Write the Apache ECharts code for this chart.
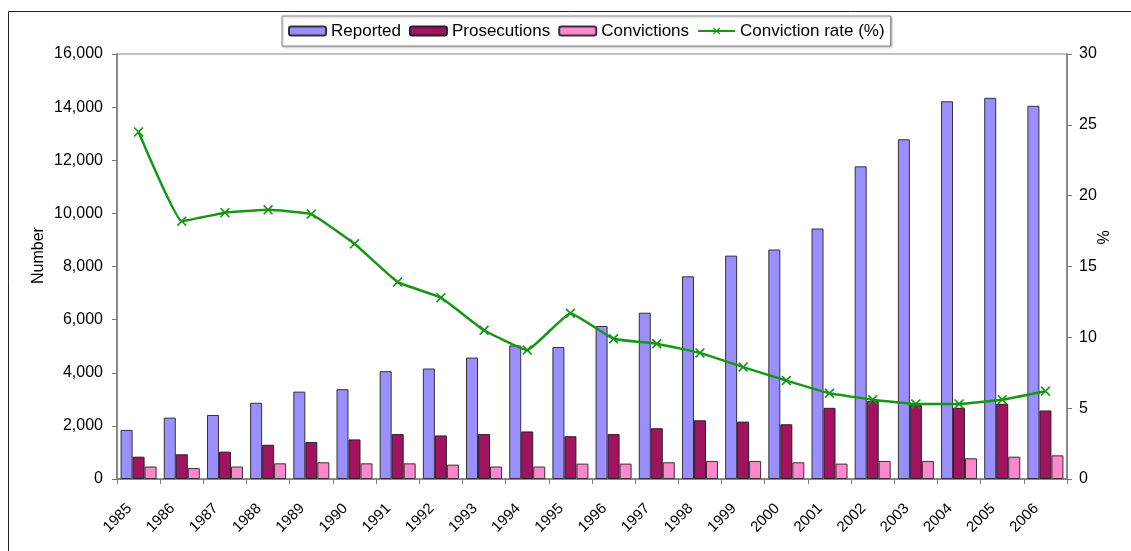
<!DOCTYPE html>
<html>
<head>
<meta charset="utf-8">
<script src="https://cdn.jsdelivr.net/npm/echarts@6/dist/echarts.min.js"></script>
<style>html,body{margin:0;padding:0;background:#fff}#c{width:1131px;height:551px}</style>
</head>
<body>
<div id="c"></div>
<script>
var years = ['1985','1986','1987','1988','1989','1990','1991','1992','1993','1994','1995','1996','1997','1998','1999','2000','2001','2002','2003','2004','2005','2006'];
var reported = [1850,2310,2410,2870,3290,3380,4060,4160,4570,5030,4970,5760,6260,7630,8410,8640,9430,11770,12790,14220,14350,14050];
var prosecutions = [840,930,1030,1290,1390,1490,1690,1640,1690,1790,1610,1690,1910,2210,2160,2060,2680,2940,2780,2680,2830,2580];
var convictions = [470,410,470,590,630,590,590,540,470,470,580,580,630,680,680,630,580,680,680,780,840,890];
var convictionRate = [24.5,18.2,18.8,19.0,18.7,16.6,13.9,12.8,10.5,9.1,11.7,9.9,9.55,8.9,7.9,6.95,6.05,5.6,5.3,5.3,5.6,6.2];
var leftTicks = {min:0, max:16000, interval:2000};
var rightTicks = {min:0, max:30, interval:5};

var font = 'Liberation Sans, Arial, sans-serif';
var xMark = 'path://M0,1.2L1.2,0L5,3.8L8.8,0L10,1.2L6.2,5L10,8.8L8.8,10L5,6.2L1.2,10L0,8.8L3.8,5Z';
var chart = echarts.init(document.getElementById('c'), null, {renderer:'canvas'});
chart.setOption({
  backgroundColor:'#fff',
  animation:false,
  textStyle:{fontFamily:font, color:'#000'},
  graphic:[
    {type:'line', shape:{x1:8.5,y1:11.5,x2:1131,y2:11.5}, style:{stroke:'#222',lineWidth:1}},
    {type:'line', shape:{x1:8.5,y1:11.5,x2:8.5,y2:551}, style:{stroke:'#222',lineWidth:1}}
  ],
  legend:{
    left:282, top:16,
    padding:[6,6,6,6],
    itemWidth:37, itemHeight:9, itemGap:8,
    borderColor:'#888', borderWidth:1,
    backgroundColor:'#fff',
    shadowColor:'rgba(0,0,0,0.25)', shadowBlur:2, shadowOffsetX:1, shadowOffsetY:1,
    textStyle:{fontSize:17, fontFamily:font, color:'#000', lineHeight:18},
    data:['Reported','Prosecutions','Convictions','Conviction rate (%)']
  },
  grid:{left:117, right:64, top:54, bottom:72, show:true, borderColor:'#888', borderWidth:1},
  xAxis:{
    type:'category', data:years, boundaryGap:true,
    axisLine:{lineStyle:{color:'#777', width:1.5}},
    axisTick:{show:true, length:5, lineStyle:{color:'#777'}},
    axisLabel:{rotate:45, fontSize:15, color:'#000', margin:18, padding:[0,13,0,0], fontFamily:font}
  },
  yAxis:[
    {type:'value', min:leftTicks.min, max:leftTicks.max, interval:leftTicks.interval,
     name:'Number', nameLocation:'middle', nameGap:70, nameRotate:90, nameMoveOverlap:false,
     nameTextStyle:{fontSize:16, color:'#000', fontFamily:font, padding:[0,0,0,22]},
     axisLine:{show:true, lineStyle:{color:'#777', width:1.5}},
     axisTick:{show:true, length:5, lineStyle:{color:'#777'}},
     splitLine:{show:false},
     axisLabel:{fontSize:16, color:'#000', margin:14, fontFamily:font}},
    {type:'value', min:rightTicks.min, max:rightTicks.max, interval:rightTicks.interval, position:'right',
     name:'%', nameLocation:'middle', nameGap:30, nameRotate:90, nameMoveOverlap:false,
     nameTextStyle:{fontSize:16, color:'#000', fontFamily:font, padding:[0,0,0,58]},
     axisLine:{show:true, lineStyle:{color:'#777', width:1.5}},
     axisTick:{show:true, length:5, lineStyle:{color:'#777'}},
     splitLine:{show:false},
     axisLabel:{fontSize:16, color:'#000', margin:12, fontFamily:font}}
  ],
  series:[
    {name:'Reported', type:'bar', data:reported, barWidth:12, barGap:'0%',
     itemStyle:{color:'#9B8FFF', borderColor:'#333', borderWidth:1}},
    {name:'Prosecutions', type:'bar', data:prosecutions, barWidth:12, barGap:'0%',
     itemStyle:{color:'#A2135F', borderColor:'#222', borderWidth:1}},
    {name:'Convictions', type:'bar', data:convictions, barWidth:12, barGap:'0%',
     itemStyle:{color:'#FF88CC', borderColor:'#333', borderWidth:1}},
    {name:'Conviction rate (%)', type:'line', yAxisIndex:1, data:convictionRate,
     smooth:0.1, symbol:xMark, symbolSize:10,
     lineStyle:{color:'#169616', width:2.5},
     itemStyle:{color:'#169616'}}
  ]
});
</script>
</body>
</html>
